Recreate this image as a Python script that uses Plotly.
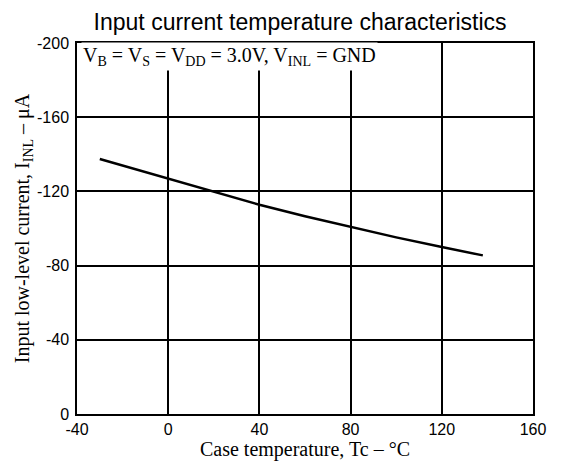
import plotly.graph_objects as go

temp_c = [-30, -20, -10, 0, 20, 40, 60, 80, 100, 120, 138]
i_inl_ua = [-137.5, -134, -130.4, -126.8, -119.6, -112.8, -106.6, -100.8, -95.2, -90, -85.5]

x_ticks = [-40, 0, 40, 80, 120, 160]
y_ticks = [-200, -160, -120, -80, -40, 0]

fig = go.Figure()
fig.add_trace(go.Scatter(
    x=temp_c, y=i_inl_ua, mode="lines",
    line=dict(color="black", width=2.5),
    showlegend=False,
))

# page body has an 8px margin, so the figure is sized to fit the window exactly
fig.update_layout(
    width=550, height=456,
    margin=dict(l=69, r=14, t=35, b=36),
    plot_bgcolor="white", paper_bgcolor="white",
    title=dict(text="Input current temperature characteristics",
               x=0.531, xanchor="center", y=0.986, yanchor="top",
               pad=dict(t=0, b=0),
               font=dict(family="Liberation Sans, Arial", size=23, color="black")),
    font=dict(family="Liberation Sans, Arial", size=16, color="black"),
)

fig.update_xaxes(
    range=[-40, 160], tickvals=x_ticks, ticktext=[str(v) for v in x_ticks],
    showgrid=True, gridcolor="black", gridwidth=1.5,
    showline=True, linecolor="black", linewidth=1.5, mirror=True,
    zeroline=False, ticks="", ticklabelstandoff=0,
    title=dict(text="Case temperature, Tc – °C", standoff=0,
               font=dict(family="Liberation Serif, Times New Roman", size=20)),
)
fig.update_yaxes(
    range=[0, -200], tickvals=y_ticks, ticktext=[str(v) for v in y_ticks],
    showgrid=True, gridcolor="black", gridwidth=1.5,
    showline=True, linecolor="black", linewidth=1.5, mirror=True,
    zeroline=False, ticks="", ticklabelstandoff=3,
    title=dict(text="Input low-level current, I<sub>INL</sub> – μA", standoff=2,
               font=dict(family="Liberation Serif, Times New Roman", size=20)),
)

fig.add_annotation(
    text="V<sub>B</sub> = V<sub>S</sub> = V<sub>DD</sub> = 3.0V, V<sub>INL</sub> = GND",
    xref="paper", yref="paper", x=0.0, y=1.0, xanchor="left", yanchor="top",
    xshift=4, yshift=1, showarrow=False, bgcolor="white", borderpad=1,
    font=dict(family="Liberation Serif, Times New Roman", size=20, color="black"),
)

fig.write_html("out.html")
